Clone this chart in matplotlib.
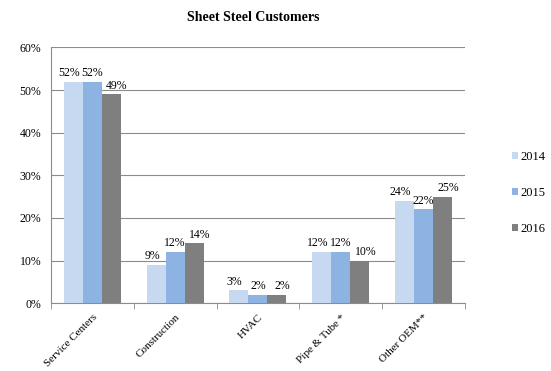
import numpy as np
import matplotlib
matplotlib.use("Agg")
import matplotlib.pyplot as plt
from matplotlib.ticker import FuncFormatter, FixedLocator

plt.rcParams["font.family"] = ["Liberation Serif", "DejaVu Serif"]

# -----------------------------------------------------------------------
# Data
# -----------------------------------------------------------------------
categories = ["Service Centers", "Construction", "HVAC", "Pipe & Tube *", "Other OEM**"]
years = ["2014", "2015", "2016"]
v2014 = [52, 9, 3, 12, 24]
v2015 = [52, 12, 2, 12, 22]
v2016 = [49, 14, 2, 10, 25]

COLORS = ["#C6D9F1", "#8DB3E2", "#7F7F7F"]
LABEL_SHIFT = [-3, 0, 4]   # points, spreads the labels apart like Excel does

fig = plt.figure(figsize=(5.51, 3.71), dpi=100)
ax = fig.add_axes([0.0926, 0.183, 0.751, 0.689])

x = np.arange(len(categories))
w = 0.23
for i, (vals, col, yr) in enumerate(zip([v2014, v2015, v2016], COLORS, years)):
    pos = x + (i - 1) * w
    bars = ax.bar(pos, vals, width=w, color=col, label=yr, zorder=3)
    for b, v in zip(bars, vals):
        ax.annotate(f"{v}%", (b.get_x() + b.get_width() / 2, v),
                    xytext=(LABEL_SHIFT[i], 2), textcoords="offset points",
                    ha="center", va="bottom", fontsize=8.5, zorder=4)

ax.set_xlim(-0.5, len(categories) - 0.5)
ax.set_ylim(0, 60)
ax.set_yticks(np.arange(0, 61, 10))
ax.yaxis.set_major_formatter(FuncFormatter(lambda v, p: f"{v:.0f}%"))
ax.yaxis.grid(True, color="#8C8C8C", linewidth=0.8, zorder=0)
ax.tick_params(axis="y", length=0, labelsize=8.5, pad=7)

ax.set_xticks(x)
ax.set_xticklabels(categories, rotation=45, ha="right", rotation_mode="anchor", fontsize=8)
ax.tick_params(axis="x", length=0, pad=7)
ax.xaxis.set_minor_locator(FixedLocator(np.arange(-0.5, len(categories), 1.0)))
ax.tick_params(axis="x", which="minor", length=4, color="#8C8C8C", direction="out")

for s in ["top", "right"]:
    ax.spines[s].set_visible(False)
ax.spines["left"].set_color("#8C8C8C")
ax.spines["bottom"].set_color("#8C8C8C")

fig.text(0.46, 0.953, "Sheet Steel Customers", ha="center", va="center",
         fontsize=10, fontweight="bold")

fig.legend(loc="center left", bbox_to_anchor=(0.92, 0.48), frameon=False,
           fontsize=9, handlelength=0.5, handleheight=0.5, handletextpad=0.15,
           labelspacing=1.9, borderaxespad=0)

fig.savefig("out.png", dpi=100)
